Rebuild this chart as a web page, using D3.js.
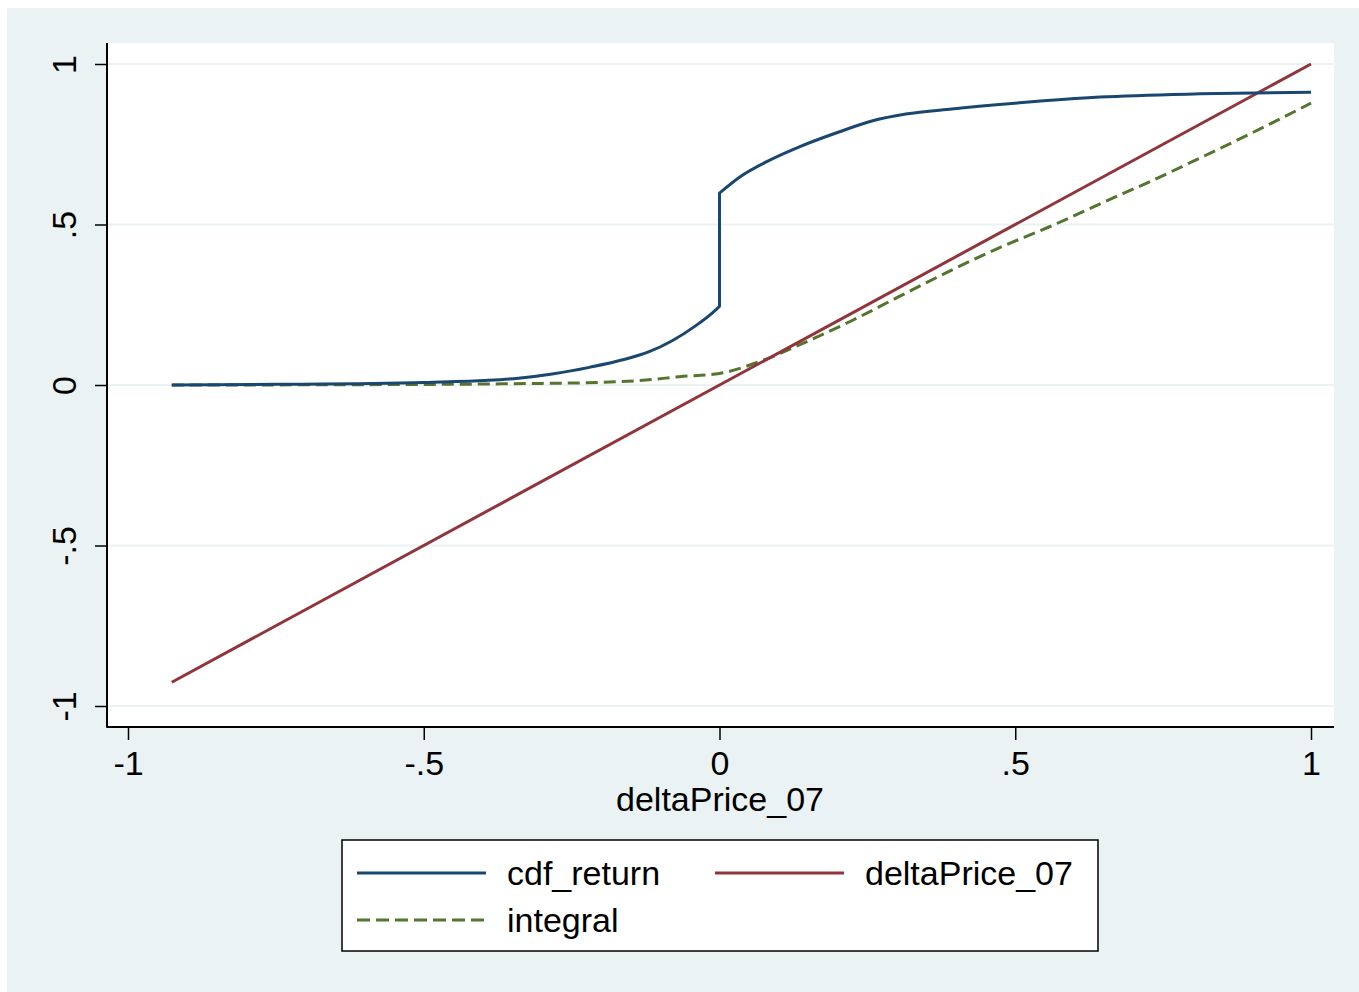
<!DOCTYPE html>
<html>
<head>
<meta charset="utf-8">
<script src="https://cdn.jsdelivr.net/npm/d3@7"></script>
<style>
  body { margin: 0; background: #fff; }
  svg { display: block; font-family: "Liberation Sans", Arial, sans-serif; }
</style>
</head>
<body>
<svg width="1359" height="992"></svg>
<script>
// values
var xTicks = [-1, -0.5, 0, 0.5, 1];
var xTickLabels = ["-1", "-.5", "0", ".5", "1"];
var yTicks = [-1, -0.5, 0, 0.5, 1];
var yTickLabels = ["-1", "-.5", "0", ".5", "1"];

// cdf_return, left of the jump and right of it
var cdfLowX = [-0.926, -0.75, -0.5, -0.4, -0.34, -0.28, -0.22, -0.16, -0.12, -0.08, -0.04, -0.01, 0];
var cdfLowY = [0, 0.002, 0.008, 0.014, 0.021, 0.035, 0.055, 0.08, 0.103, 0.138, 0.185, 0.228, 0.245];
var cdfHighX = [0, 0.035, 0.08, 0.135, 0.203, 0.259, 0.315, 0.393, 0.507, 0.643, 0.812, 1.0];
var cdfHighY = [0.598, 0.649, 0.696, 0.742, 0.789, 0.823, 0.844, 0.86, 0.879, 0.897, 0.907, 0.912];

var deltaX = [-0.926, 1.0];
var deltaY = [-0.926, 1.0];

var integralX = [-0.926, -0.6, -0.4, -0.3, -0.203, -0.12, -0.068, 0, 0.068, 0.135, 0.22, 0.3, 0.389,
  0.47, 0.558, 0.65, 0.727, 0.811, 0.9, 1.0];
var integralY = [0, 0.001, 0.003, 0.005, 0.008, 0.016, 0.026, 0.036, 0.073, 0.125, 0.197, 0.272, 0.355,
  0.425, 0.493, 0.57, 0.633, 0.706, 0.785, 0.878];

var seriesNames = ["cdf_return", "deltaPrice_07", "integral"];
var seriesColors = ["#1a476f", "#90353b", "#55752f"];

var svg = d3.select("svg");

// outer background
svg.append("rect")
  .attr("x", 7).attr("y", 8)
  .attr("width", 1352).attr("height", 984)
  .attr("fill", "#eaf2f3");

var plot = { left: 107, top: 43, right: 1334, bottom: 727 };

svg.append("rect")
  .attr("x", plot.left).attr("y", plot.top)
  .attr("width", plot.right - plot.left).attr("height", plot.bottom - plot.top)
  .attr("fill", "#fff");

var x = d3.scaleLinear().domain([-1, 1]).range([128, 1311]);
var y = d3.scaleLinear().domain([-1, 1]).range([706, 64]);

// gridlines
svg.append("g")
  .selectAll("line")
  .data(yTicks)
  .enter()
  .append("line")
  .attr("x1", plot.left).attr("x2", plot.right)
  .attr("y1", function(d) { return y(d); })
  .attr("y2", function(d) { return y(d); })
  .attr("stroke", "#eaf2f3")
  .attr("stroke-width", 2);

// axes
var xAxis = svg.append("g")
  .attr("transform", "translate(0," + plot.bottom + ")")
  .call(d3.axisBottom(x).tickValues(xTicks).tickSize(13).tickPadding(4)
    .tickFormat(function(d, i) { return xTickLabels[i]; }));
var yAxis = svg.append("g")
  .attr("transform", "translate(" + plot.left + ",0)")
  .call(d3.axisLeft(y).tickValues(yTicks).tickSize(12).tickPadding(0)
    .tickFormat(function(d, i) { return yTickLabels[i]; }));

[xAxis, yAxis].forEach(function(a) {
  a.select(".domain").remove();
  a.selectAll(".tick line").attr("stroke", "#000").attr("stroke-width", 1.5);
  a.selectAll(".tick text").attr("fill", "#000").style("font-size", "34px")
    .style("font-family", "'Liberation Sans', Arial, sans-serif");
});
xAxis.selectAll(".tick text").attr("dy", "0.9em");
yAxis.selectAll(".tick text")
  .attr("x", null).attr("dy", null)
  .attr("text-anchor", "middle")
  .attr("transform", "translate(-31,0) rotate(-90)");

// axis lines
svg.append("line")
  .attr("x1", plot.left).attr("x2", plot.left)
  .attr("y1", plot.top).attr("y2", plot.bottom + 0.75)
  .attr("stroke", "#000").attr("stroke-width", 2);
svg.append("line")
  .attr("x1", plot.left).attr("x2", plot.right)
  .attr("y1", plot.bottom).attr("y2", plot.bottom)
  .attr("stroke", "#000").attr("stroke-width", 2);

svg.append("text")
  .attr("x", 720).attr("y", 811)
  .attr("text-anchor", "middle")
  .style("font-size", "34px")
  .text("deltaPrice_07");

// series
var line = d3.line()
  .x(function(d) { return x(d[0]); })
  .y(function(d) { return y(d[1]); });
var smooth = d3.line()
  .curve(d3.curveMonotoneX)
  .x(function(d) { return x(d[0]); })
  .y(function(d) { return y(d[1]); });

function pairs(xs, ys) {
  return xs.map(function(v, i) { return [v, ys[i]]; });
}

svg.append("path")
  .datum(pairs(integralX, integralY))
  .attr("d", smooth)
  .attr("fill", "none")
  .attr("stroke", seriesColors[2])
  .attr("stroke-width", 3)
  .attr("stroke-dasharray", "12,6");

svg.append("path")
  .datum(pairs(deltaX, deltaY))
  .attr("d", line)
  .attr("fill", "none")
  .attr("stroke", seriesColors[1])
  .attr("stroke-width", 3);

// cdf_return: smooth low part, vertical jump at 0, smooth high part
var lowPts = pairs(cdfLowX, cdfLowY);
var highPts = pairs(cdfHighX, cdfHighY);
var cdfD = smooth(lowPts) + "L" + smooth(highPts).slice(1);
svg.append("path")
  .attr("d", cdfD)
  .attr("fill", "none")
  .attr("stroke", seriesColors[0])
  .attr("stroke-width", 3)
  .attr("stroke-linejoin", "round");

// legend
var legend = svg.append("g");
legend.append("rect")
  .attr("x", 342).attr("y", 840)
  .attr("width", 756).attr("height", 111)
  .attr("fill", "#fff")
  .attr("stroke", "#000")
  .attr("stroke-width", 1.5);

var legendPos = [[357, 873], [715, 873], [357, 920]];
var item = legend.selectAll(".item")
  .data(seriesNames)
  .enter()
  .append("g")
  .attr("class", "item")
  .attr("transform", function(d, i) {
    return "translate(" + legendPos[i][0] + "," + legendPos[i][1] + ")";
  });
item.append("line")
  .attr("x1", 0).attr("x2", 129)
  .attr("y1", 0).attr("y2", 0)
  .attr("stroke", function(d, i) { return seriesColors[i]; })
  .attr("stroke-width", 3)
  .attr("stroke-dasharray", function(d, i) { return i == 2 ? "13,6" : null; });
item.append("text")
  .attr("x", 150)
  .attr("y", 12)
  .style("font-size", "34px")
  .text(function(d) { return d; });
</script>
</body>
</html>
